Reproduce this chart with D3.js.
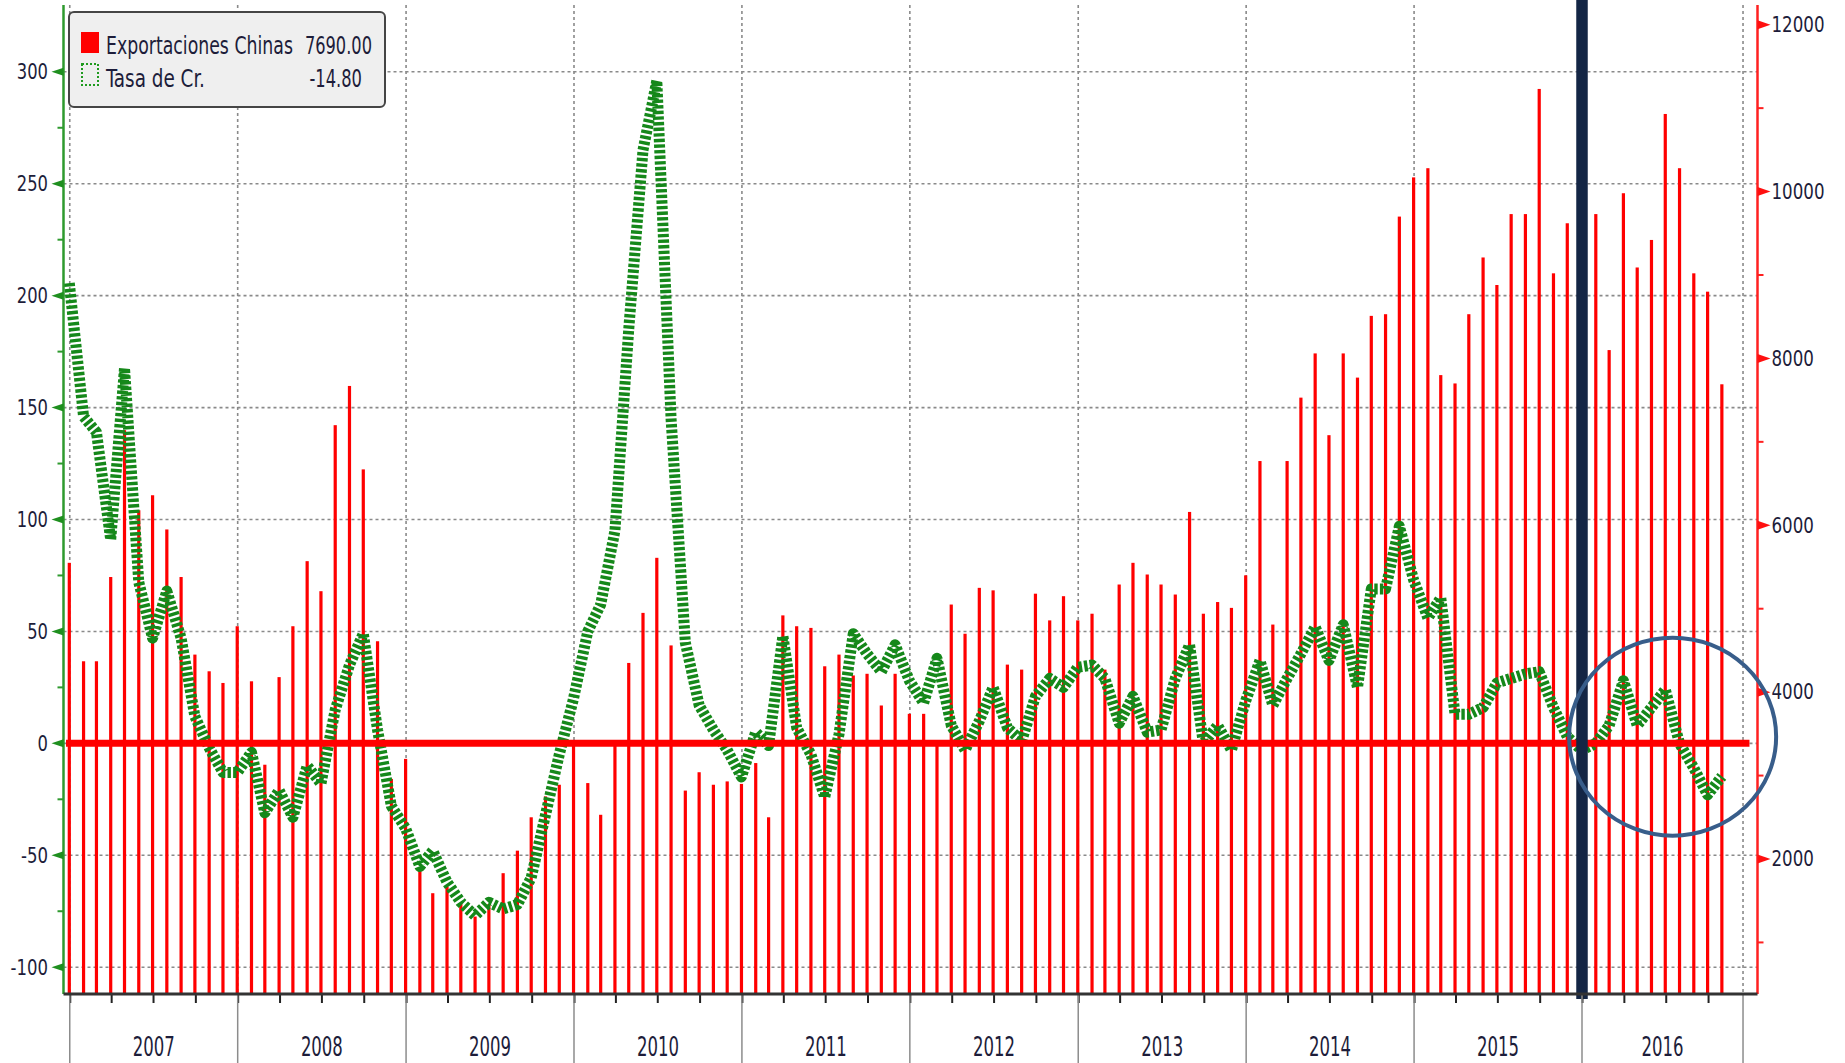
<!DOCTYPE html>
<html>
<head>
<meta charset="utf-8">
<script src="https://cdn.jsdelivr.net/npm/d3@7"></script>
<style>
  body { margin: 0; background: #fff; }
  text { font-family: "Liberation Sans Narrow", "DejaVu Sans Condensed", "Liberation Sans", sans-serif; }
</style>
</head>
<body>
<svg id="chart" width="1845" height="1063"></svg>
<script>
// monthly values, Jan 2007 .. Nov 2016 (right axis)
const exportaciones = [
  5550,4370,4370,5380,7140,6180,6360,5950,5380,4450,4250,4110,
  4790,4130,3130,4180,4790,5570,5210,7200,7670,6670,4610,2960,
  3200,1860,1590,1670,1460,1310,1460,1830,2100,2500,2750,2890,
  3360,2910,2530,3360,4350,4950,5610,4560,2820,3040,2890,2930,
  2900,3150,2500,4920,4790,4770,4310,4450,4200,4220,3840,4220,
  3740,3740,3390,5050,4700,5250,5220,4330,4270,5180,4860,5150,
  4860,4940,4270,5290,5550,5410,5290,5170,6160,4940,5080,5010,
  5400,6770,4810,6770,7530,8060,7080,8060,7770,8510,8530,9700,
  10170,10280,7800,7700,8530,9210,8880,9730,9730,11230,9020,9620,
  9860,9730,8100,9980,9090,9420,10930,10280,9020,8800,7690
];
// growth rate (left axis)
const tasa = [
  205.6,146,139,91,167.6,72,47,68,47,12,-2,-13,
  -13,-4,-31,-21,-33,-10,-18,15,35,49,6,-28,
  -38,-55,-48,-62,-71,-77,-71,-74,-72,-60,-32,-5,
  20,50,62,95,185,265,296,145,45,17,6,-3,
  -15,5,-1,48,7,-5,-24,4,49,40,32,44,
  28,18,38,8,-3,10,25,7,1,21,29,25,
  34,35,29,9,21,5,6,29,44,0,8,-3,
  19,37,17,29,40,52,37,53,25,69,69,97,
  73,56,65,13,13,16,27,29,31,32,16,3,
  -3,0,8,28,8,16,24,0,-11,-23,-14.8
];
const leftTicks = [-100,-50,0,50,100,150,200,250,300];
const leftMinor = [-75,-25,25,75,125,175,225,275];
const rightTicks = [2000,4000,6000,8000,10000,12000];
const rightMinor = [1000,3000,5000,7000,9000,11000];
const years = [2007,2008,2009,2010,2011,2012,2013,2014,2015,2016];
const legendNames = ["Exportaciones Chinas","Tasa de Cr."];
const legendValues = ["7690.00","-14.80"];

// month-end dates, first one is 31 Dec 2006
const months = exportaciones.map((d, i) => new Date(2007, i, 0));

const svg = d3.select("#chart");
const plotLeft = 63.5, plotRight = 1757.5, plotTop = 5, plotBottom = 994;
const ink = "#1d1d3a";

// squeeze text to the narrow widths of the original font
function textWidth(s, digit) {
  let w = 0;
  for (const c of String(s)) w += c === "-" ? digit * 0.6 : c === "." ? digit * 0.45 : digit;
  return w;
}
function squeeze(sel, digit) {
  sel.attr("textLength", d => textWidth(d, digit)).attr("lengthAdjust", "spacingAndGlyphs");
}
// horizontal scaling with a transform, so the text box itself gets narrower
function narrow(sel, left, baseline, width) {
  sel.each(function (d, i) {
    const t = d3.select(this);
    const natural = this.getComputedTextLength();
    t.attr("x", 0).attr("y", 0)
      .attr("transform", `translate(${left(d, i)},${baseline(d, i)}) scale(${width(d, i) / natural},1)`);
  });
}

const x = d3.scaleTime()
  .domain([new Date(2006, 11, 31), new Date(2016, 0, 1)])
  .range([69.3, 1582]);
const yL = d3.scaleLinear().domain([-100, 300]).range([967.2, 71.8]);
const yR = d3.scaleLinear().domain([2000, 12000]).range([859, 24.7]);
const axisEnd = new Date(2016, 11, 16);

// grid
const grid = svg.append("g");
grid.selectAll("line.h").data(leftTicks).enter().append("line")
  .attr("x1", plotLeft).attr("x2", plotRight)
  .attr("y1", d => yL(d)).attr("y2", d => yL(d))
  .attr("stroke", "#8a8a8a").attr("stroke-width", 1.6).attr("stroke-dasharray", "3,3");
const yearStarts = years.map(y => new Date(y, 0, 1));
grid.selectAll("line.v").data(yearStarts.concat([axisEnd])).enter().append("line")
  .attr("x1", d => x(d)).attr("x2", d => x(d))
  .attr("y1", plotTop).attr("y2", plotBottom)
  .attr("stroke", "#8a8a8a").attr("stroke-width", 1.6).attr("stroke-dasharray", "3,3");

// bars
svg.append("g").selectAll("rect").data(exportaciones).enter().append("rect")
  .attr("x", (d, i) => x(months[i]) - 1.6)
  .attr("width", 3.2)
  .attr("y", d => yR(d))
  .attr("height", d => plotBottom - yR(d))
  .attr("fill", "#ff0000");

// growth line
const line = d3.line().x((d, i) => x(months[i])).y(d => yL(d));
svg.append("path").datum(tasa)
  .attr("d", line)
  .attr("fill", "none")
  .attr("stroke", "#15881a")
  .attr("stroke-width", 11)
  .attr("stroke-linejoin", "round")
  .attr("stroke-dasharray", "3.4,2.2");

// zero line
svg.append("line")
  .attr("x1", 66).attr("x2", x(new Date(2016, 11, 30)))
  .attr("y1", yL(0)).attr("y2", yL(0))
  .attr("stroke", "#ff0000").attr("stroke-width", 7);

// vertical marker
svg.append("line")
  .attr("x1", x(new Date(2016, 0, 1))).attr("x2", x(new Date(2016, 0, 1)))
  .attr("y1", 0).attr("y2", 999)
  .attr("stroke", "#142645").attr("stroke-width", 11.5);

// left axis
const gL = svg.append("g").attr("transform", `translate(${plotLeft},0)`)
  .call(d3.axisLeft(yL).tickValues(leftTicks).tickSize(0).tickPadding(15.5).tickFormat(d => String(d)));
gL.select(".domain").remove();
gL.selectAll("text").attr("font-size", 22).attr("fill", ink).call(squeeze, 10.4);
svg.append("line").attr("x1", plotLeft).attr("x2", plotLeft).attr("y1", plotTop).attr("y2", plotBottom)
  .attr("stroke", "#2e9a2e").attr("stroke-width", 2.5);
svg.selectAll("path.ltri").data(leftTicks).enter().append("path")
  .attr("d", d => `M${plotLeft},${yL(d) - 4}L${plotLeft - 12},${yL(d)}L${plotLeft},${yL(d) + 4}Z`)
  .attr("fill", "#1f8f1f");
svg.selectAll("line.lmin").data(leftMinor).enter().append("line")
  .attr("x1", plotLeft - 6).attr("x2", plotLeft).attr("y1", d => yL(d)).attr("y2", d => yL(d))
  .attr("stroke", "#2e9a2e").attr("stroke-width", 2);

// right axis
const gR = svg.append("g").attr("transform", `translate(${plotRight},0)`)
  .call(d3.axisRight(yR).tickValues(rightTicks).tickSize(0).tickPadding(14).tickFormat(d => String(d)));
gR.select(".domain").remove();
gR.selectAll("text").attr("font-size", 21).attr("fill", ink).call(squeeze, 10.6);
svg.append("line").attr("x1", plotRight).attr("x2", plotRight).attr("y1", plotTop).attr("y2", plotBottom)
  .attr("stroke", "#ff2020").attr("stroke-width", 2.5);
svg.selectAll("path.rtri").data(rightTicks).enter().append("path")
  .attr("d", d => `M${plotRight},${yR(d) - 4.5}L${plotRight + 13},${yR(d)}L${plotRight},${yR(d) + 4.5}Z`)
  .attr("fill", "#ff1010");
svg.selectAll("line.rmin").data(rightMinor).enter().append("line")
  .attr("x1", plotRight).attr("x2", plotRight + 6).attr("y1", d => yR(d)).attr("y2", d => yR(d))
  .attr("stroke", "#ff2020").attr("stroke-width", 2);

// bottom axis
const quarters = d3.timeMonth.range(new Date(2007, 0, 1), new Date(2016, 11, 2), 3);
const gB = svg.append("g").attr("transform", `translate(0,${plotBottom})`)
  .call(d3.axisBottom(x).tickValues(quarters).tickSize(9).tickFormat(""));
gB.select(".domain").remove();
gB.selectAll("line").attr("stroke", "#222").attr("stroke-width", 2);
svg.selectAll("line.sep").data(yearStarts.concat([axisEnd])).enter().append("line")
  .attr("x1", d => x(d)).attr("x2", d => x(d)).attr("y1", plotBottom).attr("y2", 1063)
  .attr("stroke", "#8c8c8c").attr("stroke-width", 1.5);
svg.append("line").attr("x1", plotLeft).attr("x2", plotRight).attr("y1", plotBottom).attr("y2", plotBottom)
  .attr("stroke", "#333").attr("stroke-width", 3);
const sepEnds = yearStarts.slice(1).concat([axisEnd]);
svg.selectAll("text.year").data(years).enter().append("text")
  .attr("x", (d, i) => (x(yearStarts[i]) + x(sepEnds[i])) / 2)
  .attr("y", 1056)
  .attr("text-anchor", "middle")
  .attr("font-size", 27)
  .attr("fill", ink)
  .text(d => d)
  .call(squeeze, 10.5);

// legend
const lg = svg.append("g");
lg.append("rect").attr("x", 69).attr("y", 12).attr("width", 316).attr("height", 95)
  .attr("rx", 5).attr("fill", "#efefef").attr("stroke", "#454545").attr("stroke-width", 2);
lg.append("rect").attr("x", 81).attr("y", 32).attr("width", 18).attr("height", 21).attr("fill", "#ff0000");
lg.append("rect").attr("x", 82).attr("y", 64).attr("width", 16).attr("height", 21)
  .attr("fill", "none").attr("stroke", "#1f9a1f").attr("stroke-width", 2).attr("stroke-dasharray", "2,2");
const nameWidths = [187, 99];
const valueEnds = [372, 362];
lg.selectAll("text.name").data(legendNames).enter().append("text")
  .attr("font-size", 24).attr("fill", ink).text(d => d)
  .call(narrow, () => 106, (d, i) => 54 + i * 32.5, (d, i) => nameWidths[i]);
lg.selectAll("text.val").data(legendValues).enter().append("text")
  .attr("font-size", 24).attr("fill", ink).text(d => d)
  .call(narrow, (d, i) => valueEnds[i] - textWidth(d, 10.4), (d, i) => 54 + i * 32.5, d => textWidth(d, 10.4));

// highlight ellipse
svg.append("ellipse")
  .attr("cx", x(new Date(2016, 6, 16))).attr("cy", yL(3))
  .attr("rx", 103.5).attr("ry", 99)
  .attr("fill", "none").attr("stroke", "#385d8a").attr("stroke-width", 4);
</script>
</body>
</html>
